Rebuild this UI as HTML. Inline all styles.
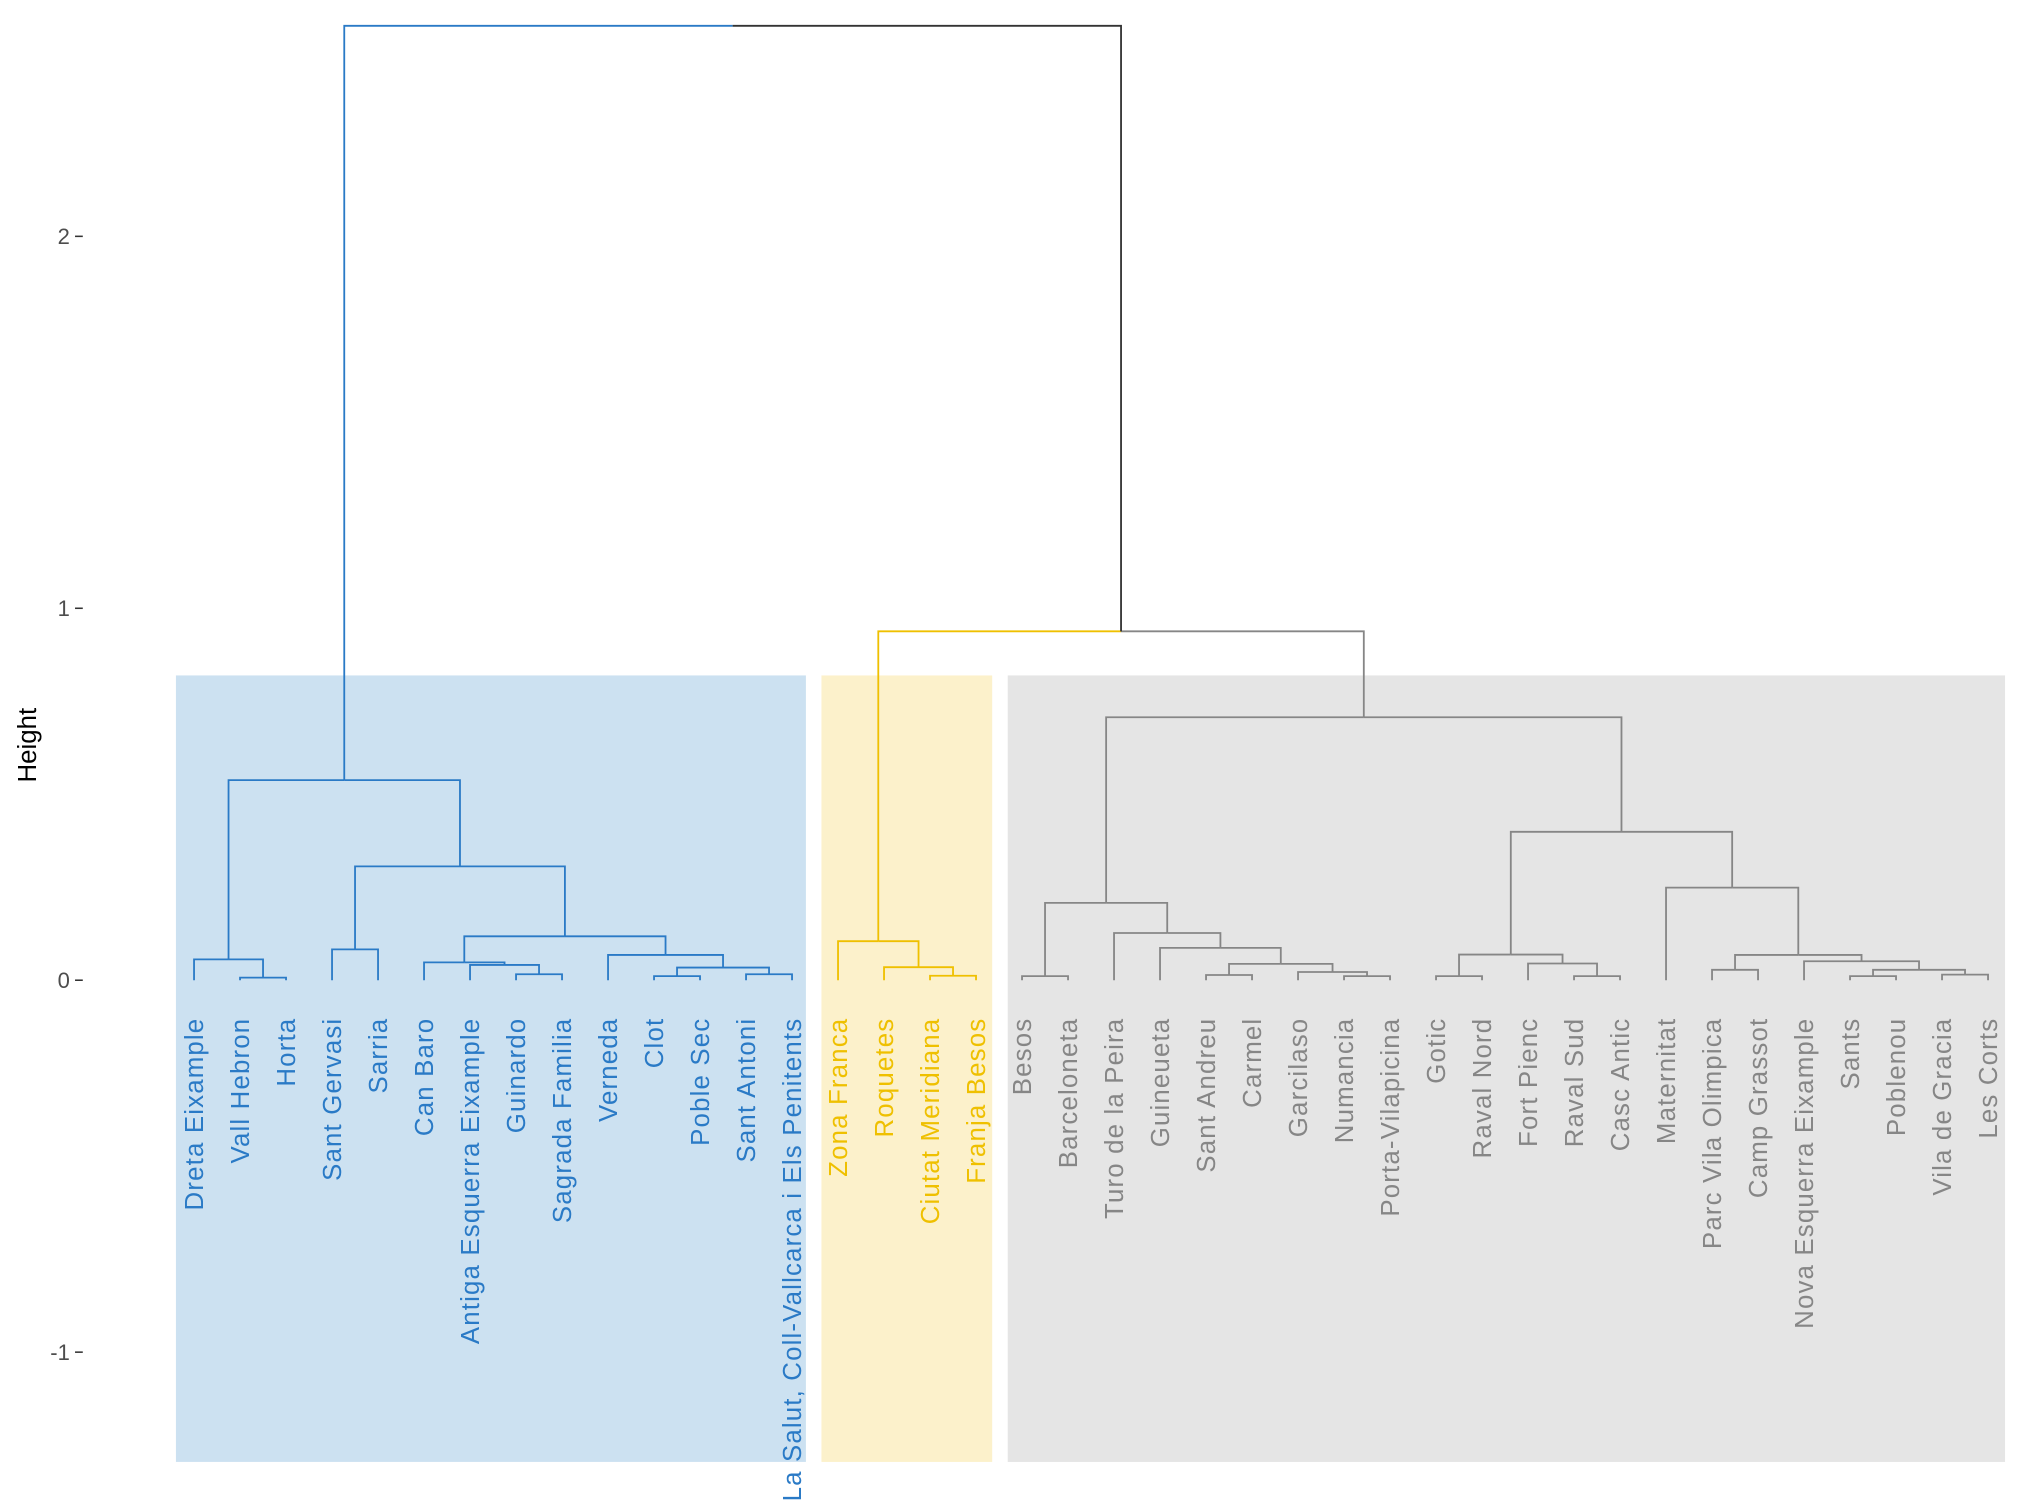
<!DOCTYPE html>
<html><head><meta charset="utf-8"><style>
html,body{margin:0;padding:0;background:#fff;}
svg{display:block;}
text{font-family:"Liberation Sans",sans-serif;}
</style></head><body>
<svg id="chart" width="2018" height="1511" viewBox="0 0 1560 1170" preserveAspectRatio="none" xmlns="http://www.w3.org/2000/svg">
<g id="boxes"></g><g id="axis"></g><g id="links"></g><g id="labels"></g>
</svg>
<script>
const leaves = ["Dreta Eixample","Vall Hebron","Horta","Sant Gervasi","Sarria","Can Baro","Antiga Esquerra Eixample","Guinardo","Sagrada Familia","Verneda","Clot","Poble Sec","Sant Antoni","La Salut, Coll-Vallcarca i Els Penitents","Zona Franca","Roquetes","Ciutat Meridiana","Franja Besos","Besos","Barceloneta","Turo de la Peira","Guineueta","Sant Andreu","Carmel","Garcilaso","Numancia","Porta-Vilapicina","Gotic","Raval Nord","Fort Pienc","Raval Sud","Casc Antic","Maternitat","Parc Vila Olimpica","Camp Grassot","Nova Esquerra Eixample","Sants","Poblenou","Vila de Gracia","Les Corts"];
const leafCluster = [0,0,0,0,0,0,0,0,0,0,0,0,0,0,1,1,1,1,2,2,2,2,2,2,2,2,2,2,2,2,2,2,2,2,2,2,2,2,2,2];
const mergeLeft  = [-2,-1,-4,-8,-7,-6,-11,-13,7,-10,6,3,2,-17,-16,-15,-19,-23,-26,-25,18,-22,-21,17,-28,-31,-30,25,-34,-37,-39,30,-36,29,-33,28,24,16,13];
const mergeRight = [-3,1,-5,-9,4,5,-12,-14,8,9,10,11,12,-18,14,15,-20,-24,-27,19,20,21,22,23,-29,-32,26,27,-35,-38,-40,31,32,33,34,35,36,37,38];
const mergeHeight = [0.007,0.056,0.083,0.016,0.041,0.048,0.011,0.016,0.034,0.068,0.118,0.306,0.538,0.012,0.035,0.105,0.011,0.014,0.011,0.022,0.044,0.087,0.127,0.208,0.011,0.011,0.045,0.069,0.028,0.011,0.015,0.028,0.051,0.068,0.249,0.399,0.707,0.938,2.566];
const yTicks = [2,1,0,-1];
const clusterColors = ["#2a7ac6","#efc000","#868686"];
const boxFills = ["#cce1f1","#fcf1cb","#e5e5e5"];

const NS="http://www.w3.org/2000/svg";
const xLeaf = i => 150 + i*35.56;
const yScale = h => 759 - h*288;
function mk(tag, attrs, parent){const e=document.createElementNS(NS,tag);for(const k in attrs)e.setAttribute(k,attrs[k]);parent.appendChild(e);return e;}

const gB=document.getElementById('boxes');
const boxX=[[136,623],[635,767],[779,1550]];
boxX.forEach((b,i)=>{const r=mk('rect',{x:b[0],y:523,width:b[1]-b[0],height:609,fill:boxFills[i]},gB);

});

const gA=document.getElementById('axis');
yTicks.forEach(t=>{const y=yScale(t);
const tl=mk('line',{x1:58,x2:64,y1:y,y2:y,stroke:'#333','stroke-width':1.2},gA);


const tx=mk('text',{x:54,y:y+6,'text-anchor':'end','font-size':17,fill:'#4d4d4d'},gA);tx.textContent=t;

});
const yt=mk('text',{x:0,y:0,transform:'translate(28,577) rotate(-90)','text-anchor':'middle','font-size':20,fill:'#000'},gA);yt.textContent='Height';



const nodeX=[],nodeC=[];
function info(ref){ if(ref<0){const i=-ref-1;return {x:xLeaf(i),h:0,c:leafCluster[i]};} return {x:nodeX[ref-1],h:mergeHeight[ref-1],c:nodeC[ref-1]}; }
const gL=document.getElementById('links');
function col(c){return c<0?'#333333':clusterColors[c];}
for(let k=0;k<mergeLeft.length;k++){
  const a=info(mergeLeft[k]), b=info(mergeRight[k]);
  const x=(a.x+b.x)/2, y=yScale(mergeHeight[k]);
  nodeX.push(x); nodeC.push(a.c===b.c?a.c:-1);
  const p1=mk('path',{d:`M${a.x},${yScale(a.h)}V${y}H${x}`,fill:'none',stroke:col(a.c),'stroke-width':1.4},gL);
  
  
  const p2=mk('path',{d:`M${b.x},${yScale(b.h)}V${y}H${x}`,fill:'none',stroke:col(b.c),'stroke-width':1.4},gL);
  
  
}

const gT=document.getElementById('labels');
leaves.forEach((n,i)=>{const x=xLeaf(i)+7;
const t=mk('text',{x:0,y:0,transform:`translate(${x},788) rotate(-90)`,'text-anchor':'end','font-size':20,'letter-spacing':0.9,fill:clusterColors[leafCluster[i]]},gT);
t.textContent=n;

});
</script>
</body></html>
